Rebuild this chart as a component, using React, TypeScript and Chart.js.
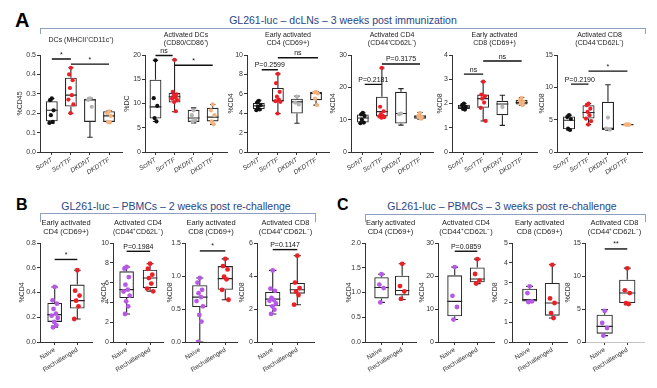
import React, { useEffect, useRef } from 'react';
import { Chart, registerables } from 'chart.js';
Chart.register(...registerables);

const FONT = "'Liberation Sans', Arial, Helvetica, sans-serif";

// ---------- categories ----------
const groupsA = ['ScrNT', 'ScrTTF', 'DKDNT', 'DKDTTF'];
const groupsBC = ['Naive', 'Rechallenged'];

// ---------- panel A (box = [min, q1, median, q3, max]) ----------
const a1Box = [[0.148, 0.158, 0.215, 0.262, 0.276], [0.2, 0.234, 0.293, 0.383, 0.434], [0.076, 0.155, 0.268, 0.275, 0.278], [0.152, 0.155, 0.186, 0.21, 0.212]];
const a1Pts = [[0.276, 0.267, 0.215, 0.19, 0.155, 0.15], [0.434, 0.4, 0.37, 0.33, 0.293, 0.27, 0.245, 0.2], [0.276, 0.268, 0.233], [0.21, 0.2, 0.186, 0.155, 0.152]];
const a1Sig = [[0, 1, 0.479, '*'], [1, 3, 0.453, '*']];
const a1Ticks = ['0.0', '0.1', '0.2', '0.3', '0.4', '0.5'];

const a2Box = [[6.3, 6.9, 9.3, 14.9, 18.9], [8.3, 10.2, 11.4, 12.2, 19.0], [6.0, 6.2, 7.0, 8.7, 9.1], [5.7, 6.3, 7.2, 9.1, 9.8]];
const a2Pts = [[18.9, 11.1, 9.5, 7.0, 6.3], [19.0, 12.4, 11.9, 11.6, 11.2, 11.0, 10.7, 10.3, 8.4], [8.6, 7.6, 6.6, 6.3], [9.8, 8.6, 7.6, 6.3, 5.7]];
const a2Sig = [[0, 0.9, 19.9, 'ns'], [1, 3, 17.9, '*']];
const a2Ticks = ['0', '5', '10', '15', '20'];

const a3Box = [[4.31, 4.41, 4.76, 5.07, 5.34], [3.97, 5.2, 5.3, 6.6, 8.05], [2.97, 3.97, 5.17, 5.5, 5.76], [4.83, 5.34, 6.03, 6.2, 6.22]];
const a3Pts = [[5.28, 5.1, 4.83, 4.66, 4.38, 4.31], [8.05, 7.1, 6.2, 5.7, 5.4, 5.24, 5.17, 3.97], [5.7, 5.1, 4.9], [6.2, 6.14, 6.03, 5.5, 4.83]];
const a3Sig = [[0.15, 1, 8.48, 'P=0.2599'], [1, 3.1, 9.72, 'ns']];
const a3Ticks = ['0', '2', '4', '6', '8', '10'];

const a4Box = [[8.9, 9.1, 10.5, 11.6, 12.1], [10.6, 11.0, 12.5, 17.1, 26.0], [8.3, 8.8, 11.9, 18.6, 19.6], [10.1, 10.3, 10.9, 11.4, 12.2]];
const a4Pts = [[12.1, 11.6, 11.1, 10.0, 9.1, 8.9], [26.0, 14.0, 12.6, 11.7, 11.2, 11.0, 10.8, 10.6], [11.9, 11.7], [12.1, 11.2, 10.9, 10.6, 10.3]];
const a4Sig = [[0.1, 1, 20.9, 'P=0.2181'], [1, 3, 27.2, 'P=0.3175']];
const a4Ticks = ['0', '10', '20', '30'];

const a5Box = [[1.73, 1.77, 1.85, 1.95, 2.0], [1.28, 1.82, 2.2, 2.37, 2.9], [1.1, 1.52, 1.98, 2.11, 2.34], [1.93, 1.96, 2.04, 2.14, 2.25]];
const a5Pts = [[2.0, 1.93, 1.86, 1.79, 1.75], [2.9, 2.37, 2.3, 2.2, 2.04, 1.82, 1.28], [1.86], [2.23, 2.14, 2.07, 2.0, 1.93]];
const a5Sig = [[0, 1, 3.21, 'ns'], [1, 3, 3.75, 'ns']];
const a5Ticks = ['0', '1', '2', '3', '4'];

const a6Box = [[3.36, 3.5, 4.9, 5.5, 5.7], [4.24, 5.17, 6.1, 7.24, 7.5], [3.35, 3.4, 3.65, 7.76, 10.4], [4.15, 4.2, 4.24, 4.28, 4.3]];
const a6Pts = [[5.7, 5.4, 5.1, 3.6, 3.4], [7.5, 7.24, 6.7, 6.2, 5.7, 5.17, 4.76, 4.24], [5.33, 3.62, 3.46], [4.28, 4.25, 4.24, 4.22, 4.2]];
const a6Sig = [[0.1, 1, 10.5, 'P=0.2190'], [1, 3, 12.5, '*']];
const a6Ticks = ['0', '5', '10', '15'];

// ---------- panel B ----------
const b1Box = [[0.119, 0.162, 0.221, 0.315, 0.445], [0.186, 0.27, 0.334, 0.464, 0.58]];
const b1Pts = [[0.445, 0.337, 0.31, 0.267, 0.229, 0.213, 0.194, 0.162, 0.135, 0.119], [0.58, 0.415, 0.375, 0.334, 0.288, 0.186]];
const b1Sig = [[0, 1, 0.667, '*']];
const b1Ticks = ['0.0', '0.2', '0.4', '0.6', '0.8'];

const b2Box = [[2.83, 4.44, 5.29, 7.14, 7.58], [5.12, 5.45, 6.46, 7.3, 7.91]];
const b2Pts = [[7.58, 7.41, 6.56, 5.79, 5.29, 5.1, 4.68, 4.11, 3.6, 2.83], [7.91, 7.4, 6.8, 6.46, 5.9, 5.4, 5.12]];
const b2Sig = [[0, 1, 9.16, 'P=0.1984']];
const b2Ticks = ['0', '2', '4', '6', '8', '10'];

const b3Box = [[0, 0.53, 0.68, 0.86, 0.97], [0.64, 0.79, 0.96, 1.15, 1.26]];
const b3Pts = [[0.97, 0.9, 0.79, 0.74, 0.68, 0.62, 0.54, 0.41, 0.31, 0], [1.26, 1.15, 1.1, 0.99, 0.95, 0.79, 0.64]];
const b3Sig = [[0, 1, 1.38, '*']];
const b3Ticks = ['0.0', '0.5', '1.0', '1.5'];

const b4Box = [[1.7, 2.16, 2.6, 3.03, 4.34], [2.26, 2.93, 3.17, 3.58, 5.23]];
const b4Pts = [[4.34, 3.23, 3.1, 2.67, 2.55, 2.5, 2.34, 2.16, 1.96, 1.7], [5.23, 3.6, 3.27, 3.05, 2.85, 2.26]];
const b4Sig = [[0, 1, 5.6, 'P=0.1147']];
const b4Ticks = ['0', '2', '4', '6'];

// ---------- panel C ----------
const c1Box = [[0.8, 0.88, 1.1, 1.31, 1.37], [0.86, 0.94, 1.04, 1.34, 1.58]];
const c1Pts = [[1.37, 1.16, 1.09, 0.8], [1.58, 1.13, 1.02, 0.87]];
const c1Sig: (number | string)[][] = [];
const c1Ticks = ['0.0', '0.5', '1.0', '1.5', '2.0'];

const c2Box = [[6.8, 7.8, 12.3, 20.2, 22.7], [17.7, 18.1, 19.1, 22.6, 25.1]];
const c2Pts = [[22.7, 14.0, 10.6, 6.8], [25.1, 20.6, 18.6, 17.7]];
const c2Sig = [[0, 1, 27.5, 'P=0.0859']];
const c2Ticks = ['0', '10', '20', '30'];

const c3Box = [[2.02, 2.05, 2.14, 2.69, 2.81], [1.21, 1.33, 1.97, 2.98, 3.9]];
const c3Pts = [[2.81, 2.47, 2.05, 2.02], [3.9, 2.2, 1.97, 1.46, 1.21]];
const c3Sig: (number | string)[][] = [];
const c3Ticks = ['0', '1', '2', '3', '4', '5'];

const c4Box = [[0.96, 1.26, 2.37, 4.14, 4.9], [5.66, 5.9, 7.42, 9.44, 11.2]];
const c4Pts = [[4.7, 2.88, 2.12, 0.96], [11.16, 7.83, 7.42, 5.9, 5.76]];
const c4Sig = [[0, 1, 14.1, '**']];
const c4Ticks = ['0', '5', '10', '15'];

// ---------- styles ----------
const colorsA = ['#111111', '#ec1f26', '#b4b4b4', '#f5b27c'];
const colorsBC = ['#b65ae6', '#ec1f26'];
const SPREAD = [0, -0.15, 0.15, -0.08, 0.08, -0.21, 0.21, -0.03, 0.11, -0.11];
const RP = 3;

type PanelDef = {
  groups: string[]; colors: string[]; box: number[][]; pts: number[][]; sig: (number | string)[][];
  yTicks: string[]; yTitle: string; title: string | string[];
  plotLeft: number; plotRight: number; xMin: number; xMax: number; titleOff: number;
  row: 'A' | 'BC'; boxW: number; capW: number; pad?: { top: number; bottom: number }; dashedX?: boolean;
};

const ROWS = {
  A: { rowTop: 26, plotBottom: 152, xh: 34, lineH: 8, size: 7, italic: true, pad: { top: 5, bottom: 8 }, r: 2.1 },
  BC: { rowTop: 214, plotBottom: 342, xh: 40, lineH: 9, size: 7.5, italic: false, pad: { top: 4, bottom: 7 }, r: 2.4 },
};

const sigTextPlugin = {
  id: 'sigText',
  afterDatasetsDraw(chart: any, _args: any, opts: any) {
    const items = (opts && opts.items) || [];
    const { ctx, scales } = chart;
    ctx.save();
    ctx.font = `7px ${FONT}`;
    ctx.fillStyle = '#111';
    ctx.textAlign = 'center';
    ctx.textBaseline = 'bottom';
    items.forEach((s: any[]) => {
      const x = scales.x.getPixelForValue(((s[0] as number) + (s[1] as number)) / 2);
      const y = scales.y.getPixelForValue(s[2] as number);
      ctx.fillText(String(s[3]), x, y - 1);
    });
    ctx.restore();
  },
};

function BoxPanel({ d }: { d: PanelDef }) {
  const ref = useRef<HTMLCanvasElement>(null);
  const R = ROWS[d.row];
  const YW = d.titleOff + 4;
  const left = d.plotLeft - YW;
  const width = d.plotRight - left + RP;
  const height = R.plotBottom - R.rowTop + R.xh;

  useEffect(() => {
    const yVals = d.yTicks.map(Number);
    const datasets: any[] = [];
    // points
    d.groups.forEach((_, i) => {
      datasets.push({
        type: 'scatter',
        data: d.pts[i].map((v, k) => ({ x: i + SPREAD[k % SPREAD.length] * d.boxW, y: v })),
        backgroundColor: d.colors[i],
        borderWidth: 0,
        pointRadius: R.r,
        order: 0,
      });
    });
    // whiskers, caps, medians
    const seg: any[] = [];
    d.box.forEach((b, i) => {
      const [mn, q1, md, q3, mx] = b;
      const hw = d.boxW / 2;
      const cw = d.capW / 2;
      seg.push({ x: i, y: q3 }, { x: i, y: mx }, { x: i, y: null });
      seg.push({ x: i - cw, y: mx }, { x: i + cw, y: mx }, { x: i, y: null });
      seg.push({ x: i, y: q1 }, { x: i, y: mn }, { x: i, y: null });
      seg.push({ x: i - cw, y: mn }, { x: i + cw, y: mn }, { x: i, y: null });
      seg.push({ x: i - hw, y: md }, { x: i + hw, y: md }, { x: i, y: null });
    });
    datasets.push({
      type: 'line', data: seg, borderColor: '#262626', borderWidth: 1.1, pointRadius: 0,
      spanGaps: false, fill: false, order: 1,
    });
    // boxes
    datasets.push({
      type: 'bar',
      data: d.box.map((b, i) => ({ x: i, y: [b[1], b[3]] })),
      backgroundColor: 'rgba(255,255,255,0)',
      borderColor: '#262626',
      borderWidth: 1.1,
      borderSkipped: false,
      barPercentage: d.boxW,
      categoryPercentage: 1,
      order: 2,
    });
    // significance bars
    const sigSeg: any[] = [];
    d.sig.forEach((s) => {
      sigSeg.push({ x: s[0], y: s[2] }, { x: s[1], y: s[2] }, { x: s[0], y: null });
    });
    if (sigSeg.length) {
      datasets.push({
        type: 'line', data: sigSeg, borderColor: '#111', borderWidth: 1.4, pointRadius: 0,
        spanGaps: false, fill: false, order: 0, clip: false,
      });
    }

    const tickFont = { family: FONT, size: 7 };
    const chart = new Chart(ref.current as HTMLCanvasElement, {
      type: 'bar',
      data: { datasets },
      plugins: [sigTextPlugin as any],
      options: {
        animation: false,
        responsive: false,
        maintainAspectRatio: false,
        devicePixelRatio: 1,
        layout: { padding: { left: 0, right: RP, top: 0, bottom: 0 } },
        plugins: {
          legend: { display: false },
          tooltip: { enabled: false },
          title: {
            display: true,
            text: d.title,
            fullSize: false,
            color: '#222',
            font: { family: FONT, size: R.size, weight: 'normal', lineHeight: `${R.lineH}px` },
            padding: d.pad || R.pad,
          },
          sigText: { items: d.sig },
        } as any,
        scales: {
          x: {
            type: 'linear',
            min: d.xMin,
            max: d.xMax,
            offset: false,
            afterBuildTicks: (s: any) => { s.ticks = d.groups.map((_, i) => ({ value: i })); },
            afterFit: (s: any) => { s.height = R.xh; },
            ticks: {
              autoSkip: false,
              minRotation: 32,
              maxRotation: 32,
              padding: 1,
              color: '#333',
              font: { family: FONT, size: 6.5, style: R.italic ? 'italic' : 'normal' },
              callback: (v: any) => d.groups[Math.round(Number(v))],
            },
            grid: { display: true, offset: false, drawOnChartArea: false, drawTicks: true, tickLength: 3, color: '#333', lineWidth: 1 },
            border: d.dashedX
              ? { display: true, color: '#c4c4c4', width: 1, dash: [3, 2] }
              : { display: true, color: '#333', width: 1 },
          },
          y: {
            type: 'linear',
            min: 0,
            max: yVals[yVals.length - 1],
            afterBuildTicks: (s: any) => { s.ticks = yVals.map((v) => ({ value: v })); },
            afterFit: (s: any) => { s.width = YW; },
            ticks: {
              padding: 1,
              color: '#333',
              font: tickFont,
              callback: (_v: any, i: number) => d.yTicks[i],
            },
            title: { display: true, text: d.yTitle, color: '#333', font: { family: FONT, size: 7, lineHeight: '8px' }, padding: 0 },
            grid: { display: true, drawOnChartArea: false, drawTicks: true, tickLength: 3, color: '#333', lineWidth: 1 },
            border: { display: true, color: '#333', width: 1 },
          },
        },
      } as any,
    });
    return () => chart.destroy();
  }, []);

  return (
    <canvas
      ref={ref}
      width={width}
      height={height}
      style={{ position: 'absolute', left, top: R.rowTop, width, height }}
    />
  );
}

const panels: PanelDef[] = [
  { groups: groupsA, colors: colorsA, box: a1Box, pts: a1Pts, sig: a1Sig, yTicks: a1Ticks, yTitle: '%CD45', title: 'DCs (MHCII⁺CD11c⁺)', plotLeft: 40, plotRight: 123, xMin: -0.62, xMax: 3.68, titleOff: 20, row: 'A', boxW: 0.62, capW: 0.28, pad: { top: 10, bottom: 11 } },
  { groups: groupsA, colors: colorsA, box: a2Box, pts: a2Pts, sig: a2Sig, yTicks: a2Ticks, yTitle: '%DC', title: ['Activated DCs', '(CD80/CD86⁺)'], plotLeft: 145, plotRight: 228, xMin: -0.55, xMax: 3.75, titleOff: 18, row: 'A', boxW: 0.62, capW: 0.28 },
  { groups: groupsA, colors: colorsA, box: a3Box, pts: a3Pts, sig: a3Sig, yTicks: a3Ticks, yTitle: '%CD4', title: ['Early activated', 'CD4 (CD69+)'], plotLeft: 247, plotRight: 330, xMin: -0.62, xMax: 3.68, titleOff: 16, row: 'A', boxW: 0.62, capW: 0.28 },
  { groups: groupsA, colors: colorsA, box: a4Box, pts: a4Pts, sig: a4Sig, yTicks: a4Ticks, yTitle: '%CD4', title: ['Activated CD4', '(CD44⁺CD62L⁻)'], plotLeft: 351, plotRight: 434, xMin: -0.62, xMax: 3.68, titleOff: 18, row: 'A', boxW: 0.62, capW: 0.28 },
  { groups: groupsA, colors: colorsA, box: a5Box, pts: a5Pts, sig: a5Sig, yTicks: a5Ticks, yTitle: '%CD8', title: ['Early activated', 'CD8 (CD69+)'], plotLeft: 452, plotRight: 538, xMin: -0.62, xMax: 3.8, titleOff: 12, row: 'A', boxW: 0.62, capW: 0.28 },
  { groups: groupsA, colors: colorsA, box: a6Box, pts: a6Pts, sig: a6Sig, yTicks: a6Ticks, yTitle: '%CD8', title: ['Activated CD8', '(CD44⁺CD62L⁻)'], plotLeft: 557, plotRight: 643, xMin: -0.62, xMax: 3.75, titleOff: 15, row: 'A', boxW: 0.62, capW: 0.28 },

  { groups: groupsBC, colors: colorsBC, box: b1Box, pts: b1Pts, sig: b1Sig, yTicks: b1Ticks, yTitle: '%CD4', title: ['Early activated', 'CD4 (CD69+)'], plotLeft: 40, plotRight: 93, xMin: -0.65, xMax: 1.65, titleOff: 18, row: 'BC', boxW: 0.65, capW: 0.3 },
  { groups: groupsBC, colors: colorsBC, box: b2Box, pts: b2Pts, sig: b2Sig, yTicks: b2Ticks, yTitle: '%CD4', title: ['Activated CD4', '(CD44⁺CD62L⁻)'], plotLeft: 113, plotRight: 164, xMin: -0.58, xMax: 1.55, titleOff: 9, row: 'BC', boxW: 0.62, capW: 0.3 },
  { groups: groupsBC, colors: colorsBC, box: b3Box, pts: b3Pts, sig: b3Sig, yTicks: b3Ticks, yTitle: '%CD8', title: ['Early activated', 'CD8 (CD69+)'], plotLeft: 185, plotRight: 238, xMin: -0.58, xMax: 1.46, titleOff: 15, row: 'BC', boxW: 0.6, capW: 0.28 },
  { groups: groupsBC, colors: colorsBC, box: b4Box, pts: b4Pts, sig: b4Sig, yTicks: b4Ticks, yTitle: '%CD8', title: ['Activated CD8', '(CD44⁺CD62L⁻)'], plotLeft: 257, plotRight: 315, xMin: -0.64, xMax: 1.68, titleOff: 15, row: 'BC', boxW: 0.62, capW: 0.3 },

  { groups: groupsBC, colors: colorsBC, box: c1Box, pts: c1Pts, sig: c1Sig, yTicks: c1Ticks, yTitle: '%CD4', title: ['Early activated', 'CD4 (CD69+)'], plotLeft: 365, plotRight: 417, xMin: -0.8, xMax: 1.67, titleOff: 16, row: 'BC', boxW: 0.7, capW: 0.33 },
  { groups: groupsBC, colors: colorsBC, box: c2Box, pts: c2Pts, sig: c2Sig, yTicks: c2Ticks, yTitle: '%CD4', title: ['Activated CD4', '(CD44⁺CD62L⁻)'], plotLeft: 438, plotRight: 495, xMin: -0.74, xMax: 1.74, titleOff: 16, row: 'BC', boxW: 0.66, capW: 0.3 },
  { groups: groupsBC, colors: colorsBC, box: c3Box, pts: c3Pts, sig: c3Sig, yTicks: c3Ticks, yTitle: '%CD8', title: ['Early activated', 'CD8 (CD69+)'], plotLeft: 512, plotRight: 568, xMin: -0.78, xMax: 1.65, titleOff: 17, row: 'BC', boxW: 0.66, capW: 0.3 },
  { groups: groupsBC, colors: colorsBC, box: c4Box, pts: c4Pts, sig: c4Sig, yTicks: c4Ticks, yTitle: '%CD8', title: ['Activated CD8', '(CD44⁺CD62L⁻)'], plotLeft: 585, plotRight: 645, xMin: -0.87, xMax: 1.74, titleOff: 17, row: 'BC', boxW: 0.72, capW: 0.3, dashedX: true },
];

const headerColor = '#2b4585';
const bracketColor = '#8e9fc2';

function Header({ cx, cy, text }: { cx: number; cy: number; text: string }) {
  return (
    <div style={{ position: 'absolute', left: cx - 200, top: cy - 7, width: 400, height: 14, lineHeight: '14px', textAlign: 'center', fontFamily: FONT, fontSize: 10.5, color: headerColor, whiteSpace: 'nowrap' }}>
      {text}
    </div>
  );
}

function Bracket({ x1, x2, y, h }: { x1: number; x2: number; y: number; h: number }) {
  return (
    <div style={{ position: 'absolute', left: x1, top: y, width: x2 - x1, height: h, borderTop: `1px solid ${bracketColor}`, borderLeft: `1px solid ${bracketColor}`, borderRight: `1px solid ${bracketColor}`, boxSizing: 'border-box' }} />
  );
}

function Letter({ x, y, t, size }: { x: number; y: number; t: string; size: number }) {
  return (
    <div style={{ position: 'absolute', left: x, top: y, fontFamily: FONT, fontWeight: 'bold', fontSize: size, lineHeight: 1, color: '#000' }}>{t}</div>
  );
}

export default function App() {
  return (
    <div style={{ position: 'absolute', left: 0, top: 0, width: 657, height: 388, background: '#fff', overflow: 'hidden' }}>
      <Letter x={15} y={10} t="A" size={20} />
      <Letter x={16} y={197} t="B" size={16} />
      <Letter x={337} y={197} t="C" size={16} />
      <Header cx={343} cy={20} text="GL261-luc – dcLNs – 3 weeks post immunization" />
      <Header cx={176} cy={206} text="GL261-luc – PBMCs – 2 weeks post re-challenge" />
      <Header cx={502} cy={206} text="GL261-luc – PBMCs – 3 weeks post re-challenge" />
      <Bracket x1={40} x2={646} y={28} h={6} />
      <Bracket x1={40} x2={316} y={213} h={9} />
      <Bracket x1={365} x2={646} y={214} h={8} />
      {panels.map((p, i) => (
        <BoxPanel key={i} d={p} />
      ))}
    </div>
  );
}
